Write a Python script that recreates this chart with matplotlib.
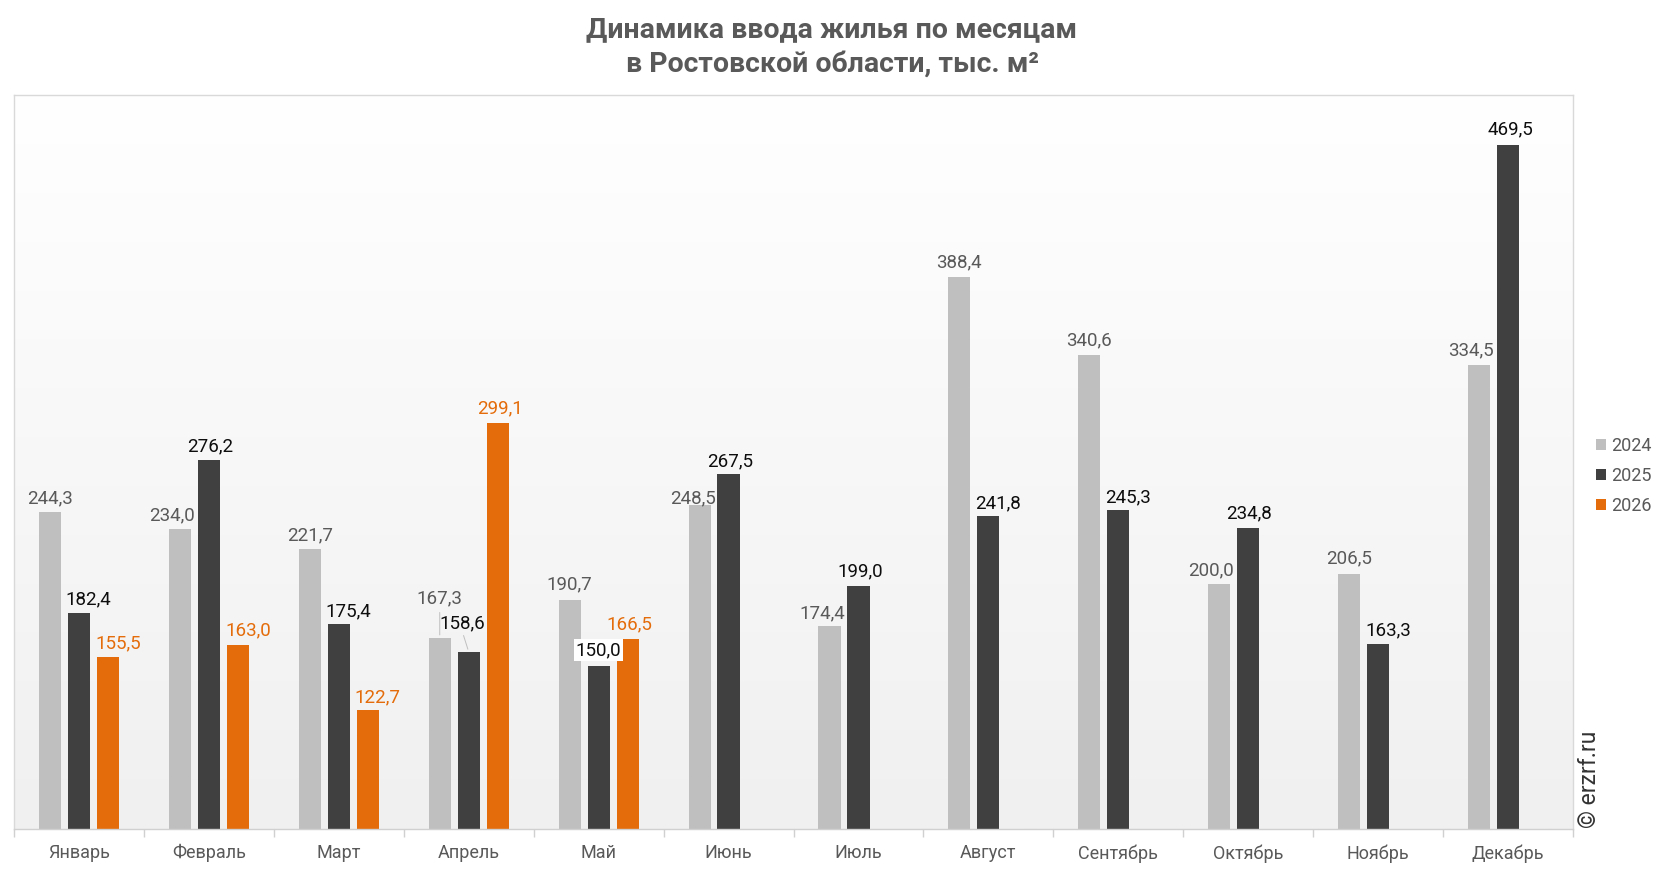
import numpy as np
import matplotlib
matplotlib.use("Agg")
import matplotlib.pyplot as plt

plt.rcParams['font.family'] = ['Roboto', 'DejaVu Sans']

# Данные
months = ["Январь", "Февраль", "Март", "Апрель", "Май", "Июнь",
          "Июль", "Август", "Сентябрь", "Октябрь", "Ноябрь", "Декабрь"]
years = ["2024", "2025", "2026"]
v2024 = [244.3, 234.0, 221.7, 167.3, 190.7, 248.5, 174.4, 388.4, 340.6, 200.0, 206.5, 334.5]
v2025 = [182.4, 276.2, 175.4, 158.6, 150.0, 267.5, 199.0, 241.8, 245.3, 234.8, 163.3, 469.5]
v2026 = [155.5, 163.0, 122.7, 299.1, 166.5]

series = [v2024, v2025, v2026]
bar_colors = ["#BFBFBF", "#404040", "#E46C0A"]
label_colors = ["#595959", "#0D0D0D", "#E46C0A"]

# сдвиги подписей (px): (dx, dy над вершиной столбца)
shifts = [
    [(0, 14), (-8, 14), (0, 14), (0, 39), (0, 15), (-7, 7), (-7, 13), (0, 15), (0, 15), (-8, 14), (0, 15), (-8, 15)],
    [(9, 14), (1, 14), (10, 13), (-6, 29), (0, 16), (2, 13), (2, 15), (10, 13), (10, 13), (1, 14), (10, 14), (2, 15)],
    [(10, 14), (10, 14), (10, 13), (2, 14), (2, 15)],
]

W, H = 1666, 872
fig = plt.figure(figsize=(W / 100, H / 100), dpi=100)
ax = fig.add_axes([14 / W, 1 - 829 / H, (1573 - 14) / W, (829 - 95) / H])

# градиентный фон области построения
grad = np.linspace(1.0, 0.0, 256).reshape(-1, 1)
ax.imshow(grad, cmap=matplotlib.colors.LinearSegmentedColormap.from_list(
    "g", ["#F0F0F0", "#FFFFFF"]), aspect="auto", extent=[0, 1, 0, 1],
    transform=ax.transAxes, zorder=0, interpolation="bilinear")

x = np.arange(len(months))
width = 0.17
step = 0.223
px = 0.72  # пиксели -> пункты

for k, vals in enumerate(series):
    xs = x[:len(vals)] + (k - 1) * step
    ax.bar(xs, vals, width, bottom=0, color=bar_colors[k], label=years[k], zorder=2)
    for i, v in enumerate(vals):
        dx, dy = shifts[k][i]
        txt = f"{v:.1f}".replace(".", ",")
        kw = {}
        if k == 1 and i == 4:
            kw["bbox"] = dict(boxstyle="square,pad=0.1", fc="white", ec="none")
        ax.annotate(txt, xy=(xs[i], v), xytext=(dx * px, dy * px), textcoords="offset points",
                    ha="center", va="center", fontsize=13.5, color=label_colors[k],
                    zorder=4, **kw)

# выноски для апреля
ax.annotate("", xy=(x[3] - step, v2024[3]), xytext=(0, 28 * px), textcoords="offset points",
            arrowprops=dict(arrowstyle="-", color="#BFBFBF", lw=0.7), zorder=3)
ax.annotate("", xy=(x[3], v2025[3]), xytext=(-6 * px, 19 * px), textcoords="offset points",
            arrowprops=dict(arrowstyle="-", color="#BFBFBF", lw=0.7), zorder=3)

ax.set_xlim(-0.5, len(months) - 0.5)
ax.set_ylim(50, 500)
ax.set_yticks([])
ax.set_xticks(x)
ax.set_xticklabels(months, fontsize=13, color="#595959")
ax.tick_params(axis="x", which="major", length=0, pad=11)
ax.set_xticks(np.arange(-0.5, len(months)), minor=True)
ax.tick_params(axis="x", which="minor", length=6, color="#D0D0D0", width=1)
for s in ax.spines.values():
    s.set_color("#D9D9D9")
    s.set_linewidth(1)
ax.spines["bottom"].set_color("#D0D0D0")

fig.text(832 / W, 1 - 37 / H, "Динамика ввода жилья по месяцам", ha="center", va="baseline",
         fontsize=20.5, fontweight="bold", color="#595959")
fig.text(832 / W, 1 - 72 / H, "в Ростовской области, тыс. м²", ha="center", va="baseline",
         fontsize=20.5, fontweight="bold", color="#595959")

fig.legend(loc="center left", bbox_to_anchor=(1596 / W, 1 - 476 / H), frameon=False,
           fontsize=13, labelcolor="#595959", handlelength=0.55, handleheight=0.55,
           handletextpad=0.3, labelspacing=0.65, borderpad=0, borderaxespad=0)

fig.text(1590 / W, 1 - 828 / H, "© erzrf.ru", rotation=90, ha="center", va="bottom",
         fontsize=16.5, color="#333333")

fig.savefig("out.png", dpi=100, facecolor="white")
